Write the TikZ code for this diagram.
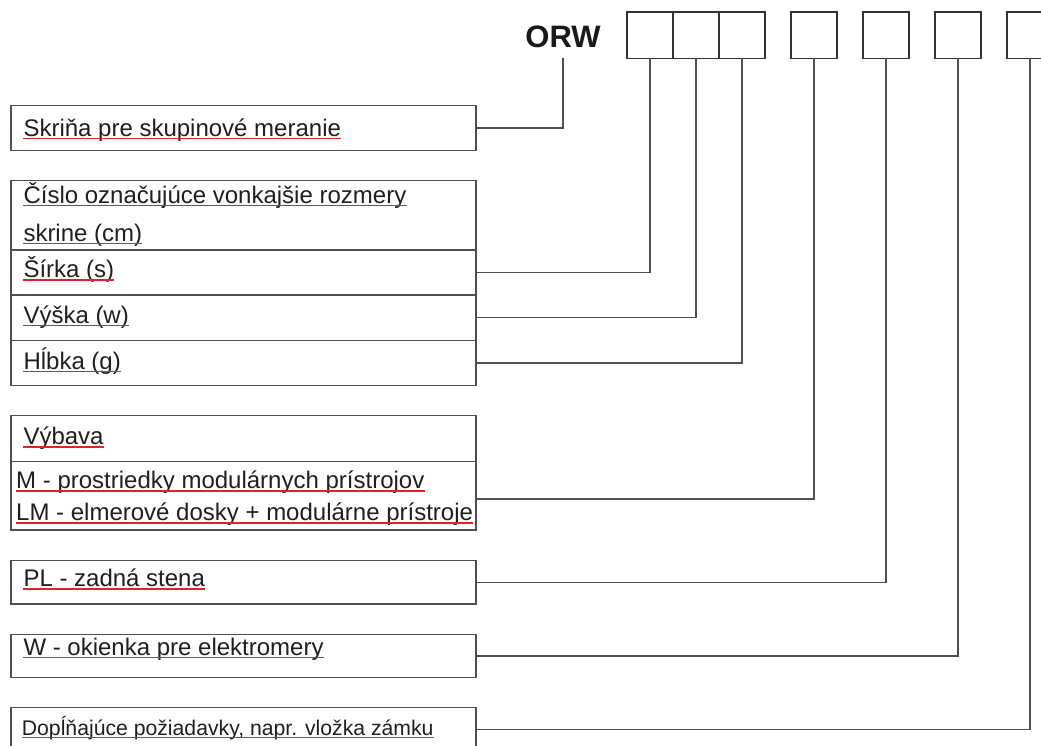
\documentclass[tikz,border=0pt]{standalone}
\usepackage{fontspec}
\setmainfont{Liberation Sans}
\usepackage{tikz}
\usetikzlibrary{positioning}
\definecolor{linegray}{HTML}{4F4F4F}
\definecolor{spellred}{HTML}{E3202B}

\begin{document}
\begin{tikzpicture}[x=1pt,y=-1pt,
      code box/.style={rectangle,draw=black!80,line width=1.3pt,minimum width=46pt,minimum height=46.3pt,inner sep=0pt,outer sep=0pt},
      row box/.style={rectangle,draw=linegray,line width=1.3pt,minimum width=465pt,minimum height=45.4pt,inner sep=0pt,outer sep=0pt},
      txt/.style={anchor=base west,inner sep=0pt,text=black!88,font=\fontsize{24}{28}\selectfont},
      wire/.style={draw=linegray,line width=1.3pt},
      squiggle/.style={draw=spellred,line width=1.2pt}]
      \useasboundingbox (0,0) rectangle (1041,745);
      \clip (0,0) rectangle (1041,745);

      % code fields
      \node[anchor=base,inner sep=0pt,text=black!90,font=\fontsize{31}{36}\selectfont\bfseries] (orw) at (563,47) {ORW};
      \node[code box] (c1) at (650,35.2) {};
      \node[code box] (c2) [right=0pt of c1] {};
      \node[code box] (c3) [right=0pt of c2] {};
      \node[code box] (c4) [right=26pt of c3] {};
      \node[code box] (c5) [right=26pt of c4] {};
      \node[code box] (c6) [right=26pt of c5] {};
      \node[code box] (c7) [right=26pt of c6] {};

      % description rows
      \node[row box] (skrina) at (243.5,128) {};
      \node[row box,minimum height=69.3pt] (cislo) [below=30pt of skrina] {};
      \node[row box,minimum height=45pt] (sirka) [below=0pt of cislo] {};
      \node[row box] (vyska) [below=0pt of sirka] {};
      \node[row box] (hlbka) [below=0pt of vyska] {};
      \node[row box,minimum height=46pt] (vybava) [below=30pt of hlbka] {};
      \node[row box,minimum height=68.3pt] (modul) [below=0pt of vybava] {};
      \node[row box,minimum height=43.3pt] (stena) [below=30.5pt of modul] {};
      \node[row box,minimum height=43.3pt] (okienka) [below=30.3pt of stena] {};
      \node[row box,minimum height=43.3pt] (doplnky) [below=30.3pt of okienka] {};

      \node[txt] (tSkrina) at (23.3,136) {Skriňa pre skupinové meranie};
      \node[txt] (tCislo) at (23.3,203) {Číslo označujúce vonkajšie rozmery~};
      \node[txt] (tSkrine) at (23.3,241) {skrine (cm)};
      \node[txt] (tSirka) at (23.3,277.5) {Šírka (s)};
      \node[txt] (tVyska) at (23.3,323) {Výška (w)};
      \node[txt] (tHlbka) at (23.3,369) {Hĺbka (g)};
      \node[txt] (tVybava) at (23.3,444.5) {Výbava};
      \node[txt] (tModul) at (16,488.5) {M - prostriedky modulárnych prístrojov};
      \node[txt] (tLm) at (16,520.5) {LM - elmerové dosky + modulárne prístroje};
      \node[txt] (tStena) at (23.3,586.5) {PL - zadná stena};
      \node[txt] (tOkienka) at (23.3,655) {W - okienka pre elektromery};
      \node[txt,font=\fontsize{21.2}{25}\selectfont] (tDoplnky) at (21.7,735) {Dopĺňajúce požiadavky, napr. vložka zámku};

      % spell-check marks
      \foreach \t in {tSkrina,tCislo,tSkrine,tSirka,tVyska,tHlbka,tVybava,tModul,tLm,tStena,tOkienka,tDoplnky}
        \draw[squiggle] ([yshift=-2.5pt]\t.base west) -- ([yshift=-2.5pt]\t.base east);

      \path[wire]
        (orw |- c1.south) |- (skrina.east)
        (c1.south) |- (sirka.east)
        (c2.south) |- (vyska.east)
        (c3.south) |- (hlbka.east)
        (c4.south) |- ([yshift=-3pt]modul.east)
        (c5.south) |- (stena.east)
        (c6.south) |- (okienka.east)
        (c7.south) |- (doplnky.east);
\end{tikzpicture}
\end{document}
